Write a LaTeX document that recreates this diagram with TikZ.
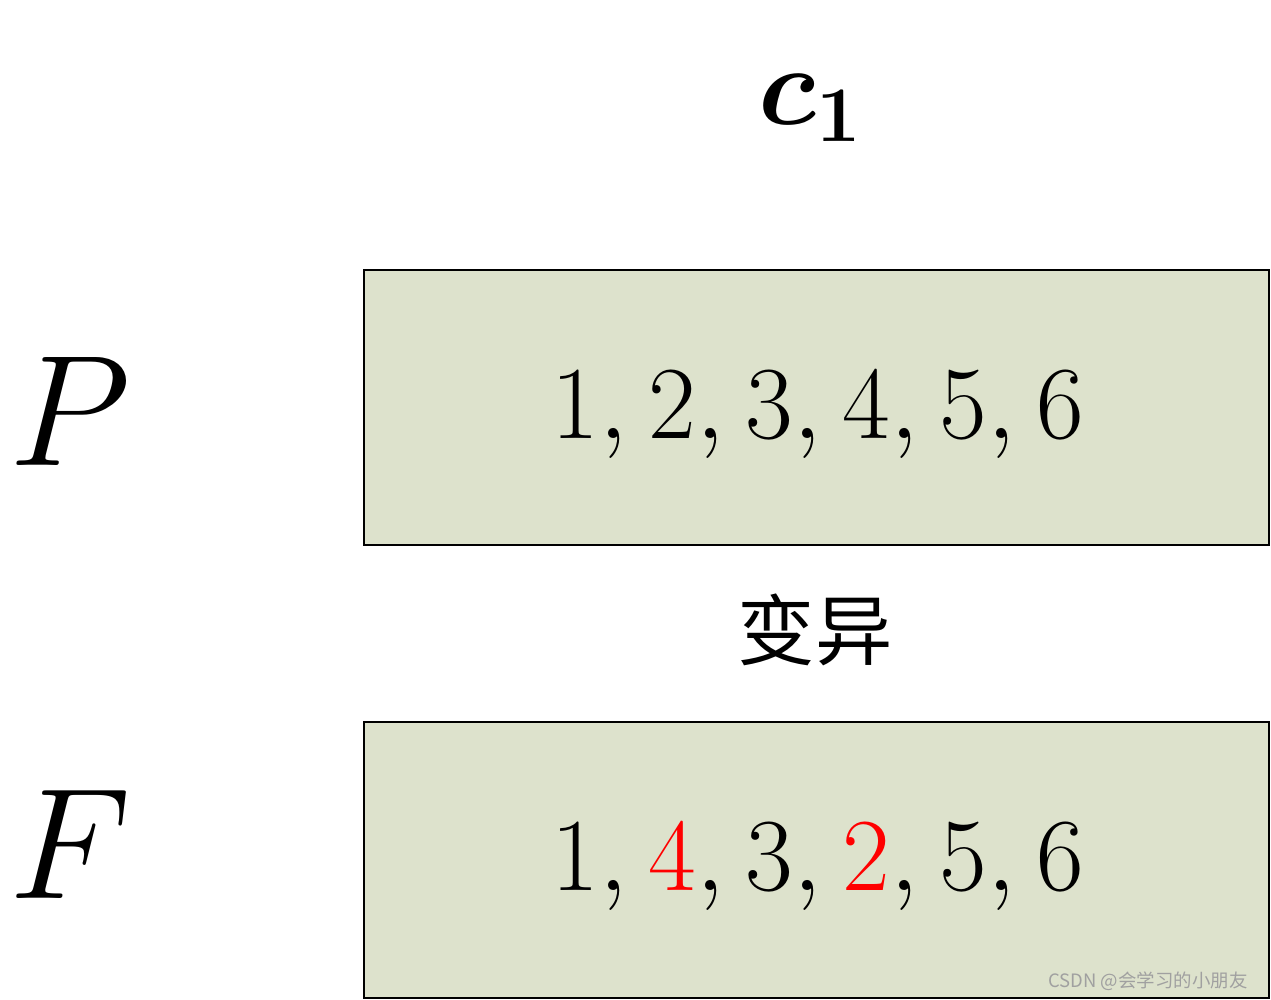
\RequirePackage{fix-cm}
\documentclass[tikz,border=0pt]{standalone}
\usepackage{fontspec}
\newfontfamily\cjk{Noto Sans CJK SC}
\definecolor{boxfill}{RGB}{221,226,204}
\definecolor{wmgray}{RGB}{160,160,160}
\newcommand{\sq}{,\mkern0.7mu}
\begin{document}
\begin{tikzpicture}[x=0.02cm,y=-0.02cm,
  chrombox/.style={draw=black,line width=0.8pt,fill=boxfill},
  bigseq/.style={font=\fontsize{59}{72}\selectfont,anchor=base},
  biglabel/.style={font=\fontsize{90}{110}\selectfont,anchor=base},
  wm/.style={font=\cjk\fontsize{10.5}{12}\selectfont,text=wmgray}]
\useasboundingbox (0,0) rectangle (1271,1000);
\path[chrombox] (364,270) rectangle (1269,545);
\path[chrombox] (364,722) rectangle (1269,998);
\node[bigseq] (pseq) at (818,438) {$1\sq 2\sq 3\sq 4\sq 5\sq 6$};
\node[bigseq] (fseq) at (818,890) {$1\sq {\color{red}4}\sq 3\sq {\color{red}2}\sq 5\sq 6$};
\node[font=\fontsize{64}{76}\selectfont\boldmath,anchor=base] (c1) at (810,125) {$c_1$};
\node[biglabel] (P) at (70,465) {$P$};
\node[biglabel] (F) at (70,898) {$F$};
\node[font=\cjk\fontsize{44}{52}\selectfont] (mut) at (815,630) {变异};
\node[wm] (mark) at (1148,981) {CSDN @会学习的小朋友};
\end{tikzpicture}
\end{document}
